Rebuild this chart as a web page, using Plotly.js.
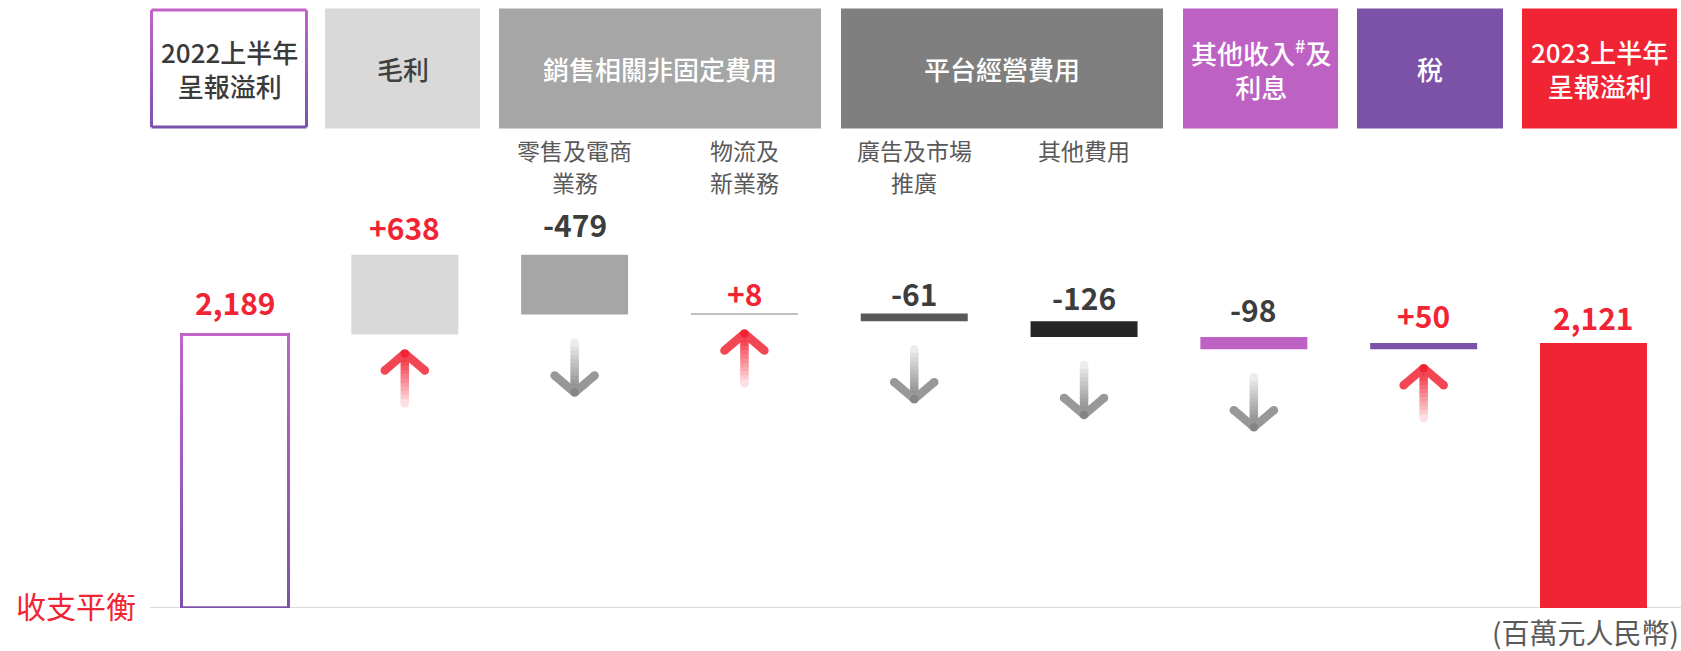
<!DOCTYPE html>
<html>
<head>
<meta charset="utf-8">
<script src="https://cdn.plot.ly/plotly-3.0.1.min.js"></script>
<style>html,body{margin:0;padding:0;background:#fff;}#chart{width:1681px;height:651px;}</style>
</head>
<body>
<div id="chart"></div>
<script>
// ---------- DATA ----------
const categories = ['2022上半年呈報溢利','毛利','零售及電商業務','物流及新業務','廣告及市場推廣','其他費用','其他收入#及利息','稅','2023上半年呈報溢利'];
const values = [2189, 638, -479, 8, -61, -126, -98, 50, 2121];
const measures = ['absolute','relative','relative','relative','relative','relative','relative','relative','total'];
const valueLabels = ['2,189','+638','-479','+8','-61','-126','-98','+50','2,121'];
const barColors = ['#ffffff','#d9d9d9','#a6a6a6','#808080','#595959','#262626','#bd62c3','#7b52a8','#f12434'];
const headerTexts = ['2022上半年<br>呈報溢利','毛利','銷售相關非固定費用','平台經營費用','其他收入<sup>#</sup>及<br>利息','稅','2023上半年<br>呈報溢利'];
const headerColors = ['#ffffff','#d9d9d9','#a6a6a6','#7f7f7f','#bd62c3','#7b52a8','#f12434'];
const headerTextColors = ['#3a3a3a','#404040','#ffffff','#ffffff','#ffffff','#ffffff','#ffffff'];
const subLabelLines = [['零售及電商','業務'],['物流及','新業務'],['廣告及市場','推廣'],['其他費用']];
const subLabelCats = [2,3,4,5];
const zeroLabel = '收支平衡';
const unitLabel = '(百萬元人民幣)';

// ---------- LAYOUT CONSTANTS ----------
const W = 1681, H = 651, MB = 43, PH = H - MB;
const PITCH = 169.81, X0 = 235;
const XMIN = -X0 / PITCH, XMAX = (W - X0) / PITCH;
const YPP = 8; // data units per pixel
const YMAX = PH * YPP;
const BAR_W = 0.63;
const FONT = '"Noto Sans CJK TC", "Noto Sans", sans-serif';
const headerSpans = [[150,308],[325,480],[499,821],[841,1163],[1183,1338],[1357,1503],[1522,1677]];
const HEAD_TOP = 8.6, HEAD_BOT = 128.6;
const labelYShift = [8, 4, 7, -3, -3, 0, 4, 4, 2]; // px, per label styling
const PURPLE_TOP = '#c064c8', PURPLE_BOT = '#7b52ab';

const px2x = p => p / W;           // paper x
const py2y = p => (PH - p) / PH;   // paper y

function hex2rgb(h) { return [1,3,5].map(o => parseInt(h.substr(o, 2), 16)); }
function mix(a, b, t) { const A = hex2rgb(a), B = hex2rgb(b); return 'rgb(' + A.map((v, j) => Math.round(v + (B[j] - v) * t)).join(',') + ')'; }

// ---------- WATERFALL GEOMETRY ----------
const bases = [], heights = [];
let cum = 0;
values.forEach((v, i) => {
  if (measures[i] === 'relative') { bases.push(cum); heights.push(v); cum += v; }
  else { bases.push(0); heights.push(v); cum = v; }
});
const xs = categories.map((c, i) => i);

const barTrace = {
  type: 'bar', x: xs, y: heights, base: bases, width: BAR_W,
  marker: { color: barColors, line: { color: barColors.map((c, i) => i === 0 ? '#9a5bbb' : c), width: barColors.map((c, i) => i === 0 ? 3 : 0) } },
  hoverinfo: 'skip'
};

const annotations = [];
const shapes = [];

function gradientOutline(xref, yref, x0, x1, yTop, yBot, cTop, cBot, width, n) {
  for (let s = 0; s < n; s++) {
    const ya = yTop + (yBot - yTop) * s / n;
    const yb = yTop + (yBot - yTop) * Math.min((s + 1.2) / n, 1);
    const col = mix(cTop, cBot, (s + 0.5) / n);
    [x0, x1].forEach(xx => shapes.push({ type: 'line', xref, yref, x0: xx, x1: xx, y0: ya, y1: yb, line: { color: col, width }, layer: 'above' }));
  }
  shapes.push({ type: 'line', xref, yref, x0, x1, y0: yTop, y1: yTop, line: { color: cTop, width }, layer: 'above' });
  shapes.push({ type: 'line', xref, yref, x0, x1, y0: yBot, y1: yBot, line: { color: cBot, width }, layer: 'above' });
}

// baseline
shapes.push({ type: 'line', xref: 'paper', yref: 'y', x0: px2x(150), x1: 1, y0: 0, y1: 0,
  line: { color: '#cfcfcf', width: 1.5 }, layer: 'below' });

// 2022 bar gradient border (from bar data)
gradientOutline('x', 'y', 0 - BAR_W / 2, 0 + BAR_W / 2, bases[0] + heights[0], bases[0], PURPLE_TOP, PURPLE_BOT, 3, 30);

// value labels
values.forEach((v, i) => {
  const top = Math.max(bases[i], bases[i] + heights[i]);
  const pos = (measures[i] !== 'relative') || v > 0;
  annotations.push({
    x: i, y: top, xref: 'x', yref: 'y', text: '<b>' + valueLabels[i] + '</b>', showarrow: false,
    yanchor: 'bottom', yshift: labelYShift[i],
    font: { family: FONT, size: 30, color: pos ? '#f12434' : '#3d3d3d' }
  });
});

// headers
headerSpans.forEach((s, k) => {
  shapes.push({
    type: 'rect', xref: 'paper', yref: 'paper', x0: px2x(s[0]), x1: px2x(s[1]), y0: py2y(HEAD_BOT), y1: py2y(HEAD_TOP),
    fillcolor: headerColors[k], line: { width: 0 }, layer: 'above'
  });
  if (k === 0) gradientOutline('paper', 'paper', px2x(s[0] + 1.5), px2x(s[1] - 1.5), py2y(HEAD_TOP + 1.5), py2y(HEAD_BOT - 1.5), PURPLE_TOP, PURPLE_BOT, 3, 16);
  annotations.push({
    x: px2x((s[0] + s[1]) / 2), y: py2y((HEAD_TOP + HEAD_BOT) / 2), xref: 'paper', yref: 'paper',
    text: headerTexts[k], showarrow: false, xanchor: 'center', yanchor: 'middle',
    font: { family: FONT, size: 26, color: headerTextColors[k], weight: 500 }
  });
});

// sub labels (one annotation per line)
subLabelLines.forEach((lines, k) => {
  lines.forEach((t, j) => {
    annotations.push({
      x: subLabelCats[k], y: py2y(150 + 32 * j), xref: 'x', yref: 'paper', text: t, showarrow: false,
      xanchor: 'center', yanchor: 'middle', borderpad: 0,
      font: { family: FONT, size: 23, color: '#595959' }
    });
  });
});

// zero & unit labels
annotations.push({ x: px2x(138), y: 0, xref: 'paper', yref: 'y', text: zeroLabel, showarrow: false,
  xanchor: 'right', yanchor: 'middle', yshift: 3, font: { family: FONT, size: 30, color: '#f12434' } });
annotations.push({ x: px2x(1680), y: py2y(632), xref: 'paper', yref: 'paper', text: unitLabel, showarrow: false,
  xanchor: 'right', yanchor: 'middle', borderpad: 0, font: { family: FONT, size: 28, color: '#5a5a5a' } });

// ---------- ARROWS ----------
const SW = 8.5, LEN = 50, ARM_X = 20, ARM_Y = 17, GAP_UP = 19, GAP_DOWN = 28, NSEG = 12;
function dot(x, y, color) {
  const r = SW / 2;
  shapes.push({ type: 'circle', xref: 'x', yref: 'y', x0: x - r / PITCH, x1: x + r / PITCH, y0: y - r * YPP, y1: y + r * YPP,
    fillcolor: color, line: { width: 0 }, layer: 'above' });
}
function seg(x0, y0, x1, y1, color) {
  shapes.push({ type: 'line', xref: 'x', yref: 'y', x0, y0, x1, y1, line: { color, width: SW }, layer: 'above' });
}
values.forEach((v, i) => {
  if (measures[i] !== 'relative') return;
  const up = v > 0;
  const bottom = Math.min(bases[i], bases[i] + heights[i]);
  const yTop = bottom - (up ? GAP_UP : GAP_DOWN) * YPP;
  const yBot = yTop - LEN * YPP;
  const headColor = up ? '#f12434' : '#858585';
  const tailColor = up ? '#fde0e4' : '#ececec';
  const apexY = up ? yTop : yBot;
  const tailY = up ? yBot : yTop;
  for (let s = 0; s < NSEG; s++) {
    const t0 = s / NSEG, t1 = (s + 1.15) / NSEG;
    const ya = apexY + (tailY - apexY) * t0;
    const yb = apexY + (tailY - apexY) * Math.min(t1, 1);
    seg(i, ya, i, yb, mix(headColor, tailColor, (s + 0.5) / NSEG));
  }
  dot(i, tailY, tailColor);
  const armY = up ? apexY - ARM_Y * YPP : apexY + ARM_Y * YPP;
  const armColor = mix(headColor, tailColor, 0.18);
  [-1, 1].forEach(d => {
    seg(i, apexY, i + d * ARM_X / PITCH, armY, armColor);
    dot(i + d * ARM_X / PITCH, armY, armColor);
  });
  dot(i, apexY, headColor);
});

const layout = {
  width: W, height: H, margin: { l: 0, r: 0, t: 0, b: MB, pad: 0 },
  paper_bgcolor: '#ffffff', plot_bgcolor: '#ffffff', showlegend: false,
  xaxis: { range: [XMIN, XMAX], showgrid: false, zeroline: false, showticklabels: false, showline: false, fixedrange: true },
  yaxis: { range: [0, YMAX], showgrid: false, zeroline: false, showticklabels: false, showline: false, fixedrange: true },
  bargap: 0, shapes, annotations
};

Plotly.newPlot('chart', [barTrace], layout, { displayModeBar: false, staticPlot: true });
</script>
</body>
</html>
